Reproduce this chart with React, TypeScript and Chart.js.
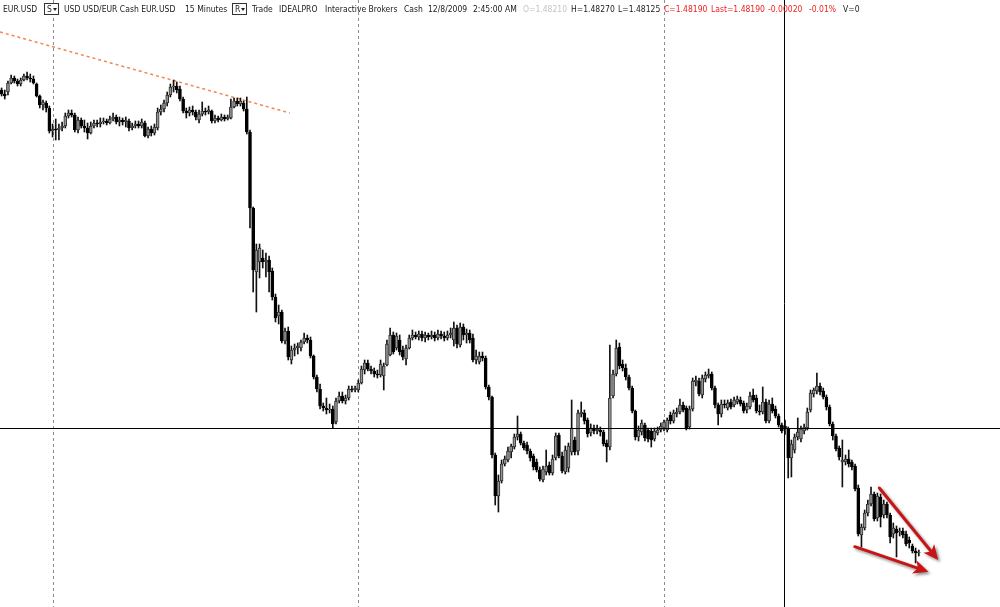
import React, { useEffect, useRef } from "react";
import { Chart, registerables } from "chart.js";

Chart.register(...registerables);

// ---- OHLC data (EUR.USD, 15 minute bars) ----
const opens = [
  1.5157, 1.5153, 1.5155, 1.5164, 1.5169, 1.5166, 1.5163, 1.5167, 1.5171, 1.5169,
  1.5168, 1.5163, 1.5151, 1.5142, 1.5144, 1.5139, 1.5116, 1.5118, 1.5117, 1.5119,
  1.5121, 1.5131, 1.5134, 1.5132, 1.5117, 1.5127, 1.5121, 1.5119, 1.5114, 1.5121,
  1.5124, 1.5123, 1.5125, 1.5126, 1.5124, 1.5128, 1.513, 1.5125, 1.5127, 1.5125,
  1.5126, 1.5119, 1.5121, 1.5123, 1.5121, 1.5124, 1.5111, 1.5118, 1.5114, 1.5119,
  1.5135, 1.5138, 1.5144, 1.5152, 1.516, 1.5161, 1.5158, 1.5148, 1.5136, 1.5134,
  1.5137, 1.5135, 1.5127, 1.5133, 1.5136, 1.5135, 1.5136, 1.5126, 1.5129, 1.5127,
  1.513, 1.5128, 1.5129, 1.514, 1.5146, 1.5143, 1.5144, 1.5138, 1.5115, 1.5039,
  1.4975, 1.4985, 1.4989, 1.4985, 1.4987, 1.4976, 1.495, 1.4931, 1.4935, 1.4906,
  1.4916, 1.4887, 1.4897, 1.4899, 1.4899, 1.4905, 1.4909, 1.4907, 1.4891, 1.487,
  1.4858, 1.4841, 1.4839, 1.4837, 1.4838, 1.4825, 1.4846, 1.4851, 1.4846, 1.4849,
  1.4858, 1.4857, 1.4857, 1.4864, 1.4877, 1.4884, 1.4878, 1.4876, 1.4873, 1.4872,
  1.4871, 1.4882, 1.4892, 1.4912, 1.4899, 1.4907, 1.4897, 1.4888, 1.4899, 1.4909,
  1.4912, 1.491, 1.4913, 1.4909, 1.4912, 1.491, 1.4912, 1.4909, 1.4913, 1.4911,
  1.4909, 1.4912, 1.4907, 1.4919, 1.4902, 1.492, 1.4912, 1.4914, 1.4909, 1.4887,
  1.4885, 1.4891, 1.4889, 1.486, 1.485, 1.4792, 1.4751, 1.4766, 1.4783, 1.4787,
  1.4795, 1.48, 1.481, 1.4813, 1.4804, 1.4802, 1.4796, 1.4791, 1.4785, 1.4777,
  1.4767, 1.4775, 1.4782, 1.4774, 1.4789, 1.4812, 1.4791, 1.4775, 1.4779, 1.4795,
  1.4807, 1.4796, 1.4833, 1.4834, 1.4827, 1.4814, 1.4819, 1.4816, 1.4817, 1.4815,
  1.4804, 1.48, 1.4851, 1.4873, 1.49, 1.4883, 1.4879, 1.487, 1.4859, 1.4836,
  1.481, 1.4815, 1.4822, 1.4817, 1.4816, 1.4808, 1.4814, 1.4817, 1.4819, 1.4817,
  1.4832, 1.4826, 1.4833, 1.4835, 1.4842, 1.4839, 1.482, 1.4838, 1.4865, 1.4866,
  1.4852, 1.4868, 1.4871, 1.4873, 1.4859, 1.4842, 1.4833, 1.4843, 1.4839, 1.4845,
  1.4842, 1.4845, 1.4847, 1.4844, 1.4837, 1.484, 1.4852, 1.4849, 1.4836, 1.4835,
  1.4845, 1.4826, 1.4843, 1.4838, 1.4831, 1.4822, 1.4821, 1.4818, 1.4789, 1.4797,
  1.481, 1.4808, 1.4816, 1.4819, 1.4837, 1.4853, 1.4856, 1.4861, 1.4856, 1.485,
  1.484, 1.4823, 1.4811, 1.4799, 1.4785, 1.4785, 1.4788, 1.4785, 1.4781, 1.4759,
  1.4712, 1.4719, 1.4734, 1.4743, 1.4753, 1.4729, 1.475, 1.4732, 1.4743, 1.4732,
  1.4713, 1.4718, 1.4715, 1.4716, 1.4713, 1.4707, 1.4701, 1.4696, 1.4694,
];

const highs = [
  1.5159, 1.5157, 1.5166, 1.5172, 1.5171, 1.5168, 1.5169, 1.5173, 1.5175, 1.5173,
  1.5171, 1.5164, 1.5152, 1.5147, 1.5146, 1.5141, 1.5123, 1.5128, 1.5123, 1.5125,
  1.5134, 1.5137, 1.5137, 1.5134, 1.513, 1.5129, 1.5127, 1.5124, 1.5125, 1.5127,
  1.5127, 1.5129, 1.5129, 1.5128, 1.5131, 1.5134, 1.5132, 1.513, 1.5129, 1.513,
  1.5128, 1.5124, 1.5126, 1.5126, 1.5128, 1.5126, 1.512, 1.5121, 1.5123, 1.5139,
  1.5142, 1.5147, 1.5155, 1.5163, 1.5167, 1.5165, 1.5161, 1.515, 1.5139, 1.514,
  1.5141, 1.5137, 1.5137, 1.5145, 1.5139, 1.5141, 1.5137, 1.5132, 1.5131, 1.5133,
  1.5132, 1.5132, 1.5148, 1.5149, 1.5149, 1.5149, 1.5146, 1.515, 1.5117, 1.504,
  1.5003, 1.5003, 1.4997, 1.4994, 1.4991, 1.4979, 1.4953, 1.4942, 1.4937, 1.4919,
  1.492, 1.4901, 1.4903, 1.4904, 1.4907, 1.4914, 1.4912, 1.491, 1.4892, 1.4872,
  1.4863, 1.4844, 1.4849, 1.4843, 1.4841, 1.4849, 1.4855, 1.4855, 1.4852, 1.4861,
  1.4861, 1.4861, 1.4867, 1.4881, 1.4887, 1.4887, 1.4881, 1.4879, 1.4877, 1.4887,
  1.4884, 1.4907, 1.4919, 1.4915, 1.4914, 1.4912, 1.4901, 1.4902, 1.4912, 1.4917,
  1.4915, 1.4916, 1.4916, 1.4915, 1.4914, 1.4916, 1.4915, 1.4917, 1.4916, 1.4915,
  1.4916, 1.4919, 1.4925, 1.4922, 1.4924, 1.4923, 1.4918, 1.4917, 1.4913, 1.4897,
  1.4895, 1.4895, 1.4891, 1.4862, 1.4851, 1.4794, 1.4772, 1.4787, 1.4791, 1.48,
  1.4803, 1.4813, 1.4831, 1.4815, 1.4806, 1.4805, 1.4798, 1.4793, 1.4788, 1.478,
  1.4781, 1.4797, 1.4785, 1.4792, 1.4814, 1.4814, 1.4795, 1.4801, 1.4804, 1.4847,
  1.481, 1.4837, 1.4845, 1.4837, 1.4829, 1.4823, 1.4822, 1.4822, 1.482, 1.4817,
  1.4807, 1.4902, 1.4877, 1.4907, 1.4904, 1.4887, 1.4883, 1.4872, 1.4861, 1.4837,
  1.4821, 1.4827, 1.4824, 1.4819, 1.4819, 1.4819, 1.482, 1.4824, 1.4827, 1.4829,
  1.4835, 1.4837, 1.4839, 1.4848, 1.4845, 1.4841, 1.4841, 1.4869, 1.4871, 1.4869,
  1.4872, 1.4875, 1.4878, 1.4875, 1.4861, 1.4844, 1.4847, 1.4847, 1.4847, 1.4848,
  1.485, 1.4851, 1.485, 1.4846, 1.4844, 1.4855, 1.4858, 1.4852, 1.4842, 1.486,
  1.4848, 1.4847, 1.4849, 1.4841, 1.4833, 1.4824, 1.4827, 1.482, 1.4807, 1.4813,
  1.4829, 1.4821, 1.4823, 1.4839, 1.4857, 1.4859, 1.4874, 1.4864, 1.4859, 1.4852,
  1.4842, 1.4825, 1.4813, 1.4801, 1.4807, 1.4792, 1.4797, 1.4787, 1.4783, 1.4762,
  1.4723, 1.4737, 1.4747, 1.476, 1.4755, 1.4754, 1.4753, 1.4747, 1.4745, 1.4734,
  1.4724, 1.4721, 1.4719, 1.4719, 1.4716, 1.471, 1.4703, 1.4699, 1.4697,
];

const lows = [
  1.5151, 1.5148, 1.5152, 1.5163, 1.5164, 1.5161, 1.5161, 1.5166, 1.5167, 1.5165,
  1.5163, 1.515, 1.5139, 1.5137, 1.5135, 1.5114, 1.511, 1.5107, 1.5107, 1.5116,
  1.5119, 1.5129, 1.513, 1.5115, 1.5114, 1.5119, 1.5115, 1.5108, 1.5113, 1.5119,
  1.512, 1.512, 1.5123, 1.5122, 1.5123, 1.5126, 1.5123, 1.5121, 1.5122, 1.512,
  1.5116, 1.5117, 1.5119, 1.5119, 1.5119, 1.511, 1.5109, 1.5111, 1.5112, 1.5117,
  1.5132, 1.5135, 1.5141, 1.515, 1.5155, 1.5154, 1.5146, 1.5134, 1.5129, 1.5131,
  1.5132, 1.5127, 1.5124, 1.5131, 1.5132, 1.5133, 1.5124, 1.5124, 1.5125, 1.5126,
  1.5126, 1.5127, 1.5128, 1.5139, 1.5141, 1.5141, 1.5136, 1.5113, 1.5019, 1.4955,
  1.4935, 1.4969, 1.4979, 1.497, 1.4955, 1.4947, 1.4925, 1.4923, 1.4904, 1.4903,
  1.4887, 1.4883, 1.4891, 1.4893, 1.4896, 1.4903, 1.4904, 1.4889, 1.4868, 1.4855,
  1.4838, 1.4836, 1.4833, 1.4834, 1.4819, 1.4823, 1.4844, 1.4844, 1.4843, 1.4847,
  1.4855, 1.4855, 1.4855, 1.4863, 1.4873, 1.4876, 1.4873, 1.487, 1.4869, 1.487,
  1.4857, 1.4881, 1.4891, 1.4893, 1.4897, 1.4892, 1.4887, 1.4882, 1.4898, 1.4907,
  1.4908, 1.4907, 1.4906, 1.4905, 1.4907, 1.4908, 1.4906, 1.4907, 1.4908, 1.4906,
  1.4907, 1.4909, 1.4901, 1.4899, 1.49, 1.4907, 1.4904, 1.4904, 1.4885, 1.4883,
  1.4883, 1.4886, 1.4858, 1.4847, 1.4789, 1.4742, 1.4735, 1.4764, 1.4781, 1.4785,
  1.4789, 1.4798, 1.4807, 1.4802, 1.4797, 1.4793, 1.4786, 1.4777, 1.4775, 1.4766,
  1.4765, 1.4772, 1.4772, 1.4772, 1.4787, 1.4789, 1.4774, 1.4773, 1.4775, 1.4792,
  1.4792, 1.4792, 1.483, 1.4823, 1.481, 1.4811, 1.4813, 1.4813, 1.4811, 1.4801,
  1.4785, 1.4797, 1.4849, 1.4871, 1.4878, 1.4876, 1.4867, 1.4857, 1.4834, 1.4807,
  1.4806, 1.4812, 1.4806, 1.4805, 1.48, 1.4806, 1.4812, 1.4815, 1.4816, 1.4815,
  1.4823, 1.4824, 1.483, 1.4833, 1.4835, 1.4817, 1.4818, 1.4836, 1.4861, 1.4851,
  1.4849, 1.4865, 1.4869, 1.4857, 1.4839, 1.4822, 1.483, 1.4839, 1.4837, 1.4838,
  1.484, 1.4843, 1.4841, 1.4834, 1.4834, 1.4838, 1.4845, 1.4834, 1.4832, 1.4833,
  1.4824, 1.4824, 1.4834, 1.4829, 1.482, 1.4814, 1.48125, 1.4769, 1.477, 1.4794,
  1.4807, 1.4805, 1.4813, 1.4817, 1.4835, 1.485, 1.4853, 1.4852, 1.4848, 1.4837,
  1.4821, 1.4807, 1.4796, 1.4787, 1.476, 1.4782, 1.478, 1.4777, 1.4756, 1.4711,
  1.47, 1.4717, 1.4731, 1.4741, 1.4726, 1.4726, 1.472, 1.4729, 1.4729, 1.4704,
  1.4709, 1.469, 1.4711, 1.4709, 1.4701, 1.4699, 1.4694, 1.4684, 1.4691,
];

const closes = [
  1.5153, 1.5151, 1.5164, 1.5169, 1.5166, 1.5163, 1.5167, 1.5171, 1.5169, 1.5168,
  1.5164, 1.5151, 1.5142, 1.5145, 1.5139, 1.5116, 1.5118, 1.5117, 1.5119, 1.5121,
  1.5131, 1.5134, 1.5132, 1.5117, 1.5127, 1.5121, 1.5119, 1.5114, 1.5121, 1.5124,
  1.5123, 1.5125, 1.5126, 1.5124, 1.5128, 1.513, 1.5125, 1.5127, 1.5125, 1.5127,
  1.5119, 1.5121, 1.5123, 1.5121, 1.5125, 1.5111, 1.5118, 1.5114, 1.512, 1.5135,
  1.5138, 1.5144, 1.5152, 1.516, 1.5161, 1.5157, 1.5148, 1.5136, 1.5134, 1.5137,
  1.5135, 1.513, 1.5133, 1.5136, 1.5135, 1.5137, 1.5126, 1.5129, 1.5127, 1.513,
  1.5128, 1.513, 1.514, 1.5146, 1.5143, 1.5146, 1.5138, 1.5115, 1.5039, 1.4977,
  1.4997, 1.4999, 1.4985, 1.4987, 1.4975, 1.495, 1.4929, 1.4935, 1.4906, 1.4916,
  1.489, 1.4897, 1.4899, 1.4901, 1.4905, 1.4909, 1.4907, 1.4891, 1.487, 1.4858,
  1.4841, 1.4839, 1.4837, 1.4838, 1.4823, 1.4846, 1.4851, 1.4846, 1.4849, 1.4858,
  1.4857, 1.4859, 1.4864, 1.4878, 1.4884, 1.4878, 1.4876, 1.4873, 1.4872, 1.4883,
  1.4881, 1.4903, 1.4912, 1.4895, 1.4911, 1.4895, 1.489, 1.4899, 1.4909, 1.4912,
  1.491, 1.4913, 1.4909, 1.4912, 1.491, 1.4912, 1.4909, 1.4913, 1.4911, 1.4909,
  1.4912, 1.4914, 1.4919, 1.4903, 1.492, 1.4912, 1.4914, 1.4907, 1.4887, 1.4891,
  1.4891, 1.4889, 1.486, 1.485, 1.4792, 1.4751, 1.4766, 1.4783, 1.4788, 1.4796,
  1.4801, 1.481, 1.4813, 1.4804, 1.4799, 1.4796, 1.4789, 1.478, 1.4777, 1.4768,
  1.4778, 1.4781, 1.4774, 1.4788, 1.4811, 1.4791, 1.4776, 1.4797, 1.4801, 1.4819,
  1.4795, 1.4834, 1.4835, 1.4826, 1.4813, 1.4819, 1.4816, 1.4818, 1.4815, 1.4803,
  1.48, 1.4849, 1.4873, 1.4899, 1.4881, 1.4879, 1.487, 1.4859, 1.4836, 1.481,
  1.4817, 1.4824, 1.4809, 1.4808, 1.4807, 1.4816, 1.4817, 1.4821, 1.4825, 1.4827,
  1.4826, 1.4834, 1.4835, 1.4842, 1.4837, 1.4819, 1.4838, 1.4866, 1.4867, 1.4853,
  1.4869, 1.4872, 1.4873, 1.4859, 1.4842, 1.4833, 1.4843, 1.4842, 1.4844, 1.484,
  1.4847, 1.4848, 1.4843, 1.4836, 1.4841, 1.4851, 1.4847, 1.4836, 1.4835, 1.4845,
  1.4826, 1.4843, 1.4836, 1.4831, 1.4822, 1.4816, 1.4819, 1.4789, 1.4803, 1.481,
  1.4815, 1.4818, 1.482, 1.4835, 1.4854, 1.4857, 1.4861, 1.4855, 1.485, 1.484,
  1.4823, 1.4811, 1.4798, 1.479, 1.4787, 1.4788, 1.4783, 1.478, 1.4758, 1.4713,
  1.472, 1.4734, 1.4743, 1.4753, 1.4728, 1.4751, 1.473, 1.4743, 1.4732, 1.471,
  1.4719, 1.4714, 1.4716, 1.4712, 1.4703, 1.4704, 1.4696, 1.4694, 1.4695,
];

// session separators (bar index), crosshair (bar index, price)
const sessionBreaks = [16, 112, 208];
const crosshairBar = 246;
const crosshairPrice = 1.4819;

// hand-drawn annotations (bar index / price)
const trendX = [-0.5, 90.5];
const trendY = [1.5215, 1.5134];
const arrowFromX = [275.6, 267.9];
const arrowFromY = [1.4759, 1.47003];
const arrowToX = [294.1, 291.0];
const arrowToY = [1.4687, 1.46753];

// axis ranges
const priceMin = 1.464;
const priceMax = 1.5247;
const slotMin = -0.5;
const slotMax = 313.5;

// header
const headerTexts = [
  "EUR.USD", "S", "USD USD/EUR Cash EUR.USD", "15 Minutes", "R", "Trade", "IDEALPRO",
  "Interactive Brokers", "Cash", "12/8/2009", "2:45:00 AM", "O=1.48210", "H=1.48270",
  "L=1.48125", "C=1.48190", "Last=1.48190", "-0.00020", "-0.01%", "V=0",
];
const headerLeft = [3, 44, 64, 185, 232, 252, 279, 325, 404, 428, 473, 523, 571, 618, 664, 711, 768, 809, 843];
const headerTone = ["k", "box", "k", "k", "box", "k", "k", "k", "k", "k", "k", "g", "k", "k", "r", "r", "r", "r", "k"];

const toneColor: Record<string, string> = { k: "#1a1a1a", g: "#c4c4c4", r: "#f02020", box: "#1a1a1a" };

function drawArrow(ctx: CanvasRenderingContext2D, x1: number, y1: number, x2: number, y2: number) {
  const ang = Math.atan2(y2 - y1, x2 - x1);
  const headLen = 15;
  const headW = 7;
  const bx = x2 - headLen * Math.cos(ang);
  const by = y2 - headLen * Math.sin(ang);
  ctx.save();
  ctx.shadowColor = "rgba(0,0,0,0.45)";
  ctx.shadowBlur = 3;
  ctx.shadowOffsetX = 2;
  ctx.shadowOffsetY = 2;
  ctx.strokeStyle = "#c81414";
  ctx.fillStyle = "#c81414";
  ctx.lineWidth = 3;
  ctx.lineCap = "round";
  ctx.beginPath();
  ctx.moveTo(x1, y1);
  ctx.lineTo(bx + 3 * Math.cos(ang), by + 3 * Math.sin(ang));
  ctx.stroke();
  ctx.beginPath();
  ctx.moveTo(x2, y2);
  ctx.lineTo(bx + headW * Math.sin(ang), by - headW * Math.cos(ang));
  ctx.lineTo(bx + 4 * Math.cos(ang), by + 4 * Math.sin(ang));
  ctx.lineTo(bx - headW * Math.sin(ang), by + headW * Math.cos(ang));
  ctx.closePath();
  ctx.fill();
  ctx.restore();
}

const overlayPlugin = {
  id: "overlay",
  beforeDatasetsDraw(chart: any) {
    const { ctx, chartArea, scales } = chart;
    const xs = scales.x;
    ctx.save();
    ctx.strokeStyle = "#8c8c8c";
    ctx.lineWidth = 1;
    ctx.setLineDash([3, 3]);
    sessionBreaks.forEach((b) => {
      const px = Math.round(xs.getPixelForValue(b)) + 0.5;
      ctx.beginPath();
      ctx.moveTo(px, chartArea.top);
      ctx.lineTo(px, chartArea.bottom);
      ctx.stroke();
    });
    ctx.restore();
  },
  afterDatasetsDraw(chart: any) {
    const { ctx, chartArea, scales } = chart;
    const xs = scales.x;
    const ys = scales.y;
    ctx.save();
    ctx.strokeStyle = "#000";
    ctx.lineWidth = 1;
    const cx = Math.round(xs.getPixelForValue(crosshairBar)) - 0.5;
    const cy = Math.round(ys.getPixelForValue(crosshairPrice)) + 0.5;
    ctx.beginPath();
    ctx.moveTo(cx, chartArea.top);
    ctx.lineTo(cx, chartArea.bottom);
    ctx.moveTo(chartArea.left, cy);
    ctx.lineTo(chartArea.right, cy);
    ctx.stroke();
    ctx.restore();
    arrowFromX.forEach((fx, k) => {
      drawArrow(
        ctx,
        xs.getPixelForValue(fx),
        ys.getPixelForValue(arrowFromY[k]),
        xs.getPixelForValue(arrowToX[k]),
        ys.getPixelForValue(arrowToY[k])
      );
    });
  },
};

export default function App() {
  const canvasRef = useRef<HTMLCanvasElement | null>(null);

  useEffect(() => {
    if (!canvasRef.current) return;
    const bodyData = opens.map((o, i) => ({ x: i, y: [Math.min(o, closes[i]), Math.max(o, closes[i])] }));
    const wickData = opens.map((_, i) => ({ x: i, y: [lows[i], highs[i]] }));
    const isUp = opens.map((o, i) => closes[i] >= o);
    const trendData = trendX.map((x, i) => ({ x, y: trendY[i] }));

    const chart = new Chart(canvasRef.current, {
      type: "bar",
      data: {
        datasets: [
          {
            label: "body",
            data: bodyData as any,
            backgroundColor: isUp.map((u) => (u ? "#949494" : "#000000")),
            borderColor: isUp.map((u) => (u ? "#303030" : "#000000")),
            borderWidth: 1,
            borderSkipped: false,
            barThickness: 3,
            minBarLength: 1,
            grouped: false,
            order: 0,
          } as any,
          {
            label: "wick",
            data: wickData as any,
            backgroundColor: "#111111",
            borderWidth: 0,
            barThickness: 1,
            minBarLength: 1,
            grouped: false,
            order: 1,
          } as any,
          {
            type: "line",
            label: "trend",
            data: trendData as any,
            borderColor: "#f3864e",
            borderWidth: 1.5,
            borderDash: [3, 3],
            pointRadius: 0,
            tension: 0,
            order: 2,
          } as any,
        ],
      },
      options: {
        animation: false,
        responsive: false,
        devicePixelRatio: 1,
        layout: { padding: 0 },
        scales: {
          x: { type: "linear", min: slotMin, max: slotMax, display: false, offset: false, grid: { offset: false } },
          y: { type: "linear", min: priceMin, max: priceMax, display: false },
        },
        plugins: { legend: { display: false }, tooltip: { enabled: false } },
      } as any,
      plugins: [overlayPlugin],
    });
    return () => chart.destroy();
  }, []);

  const font = "'DejaVu Sans Condensed', 'Liberation Sans', sans-serif";

  return (
    <div style={{ position: "absolute", left: 0, top: 0, width: 1000, height: 607, background: "#fff", overflow: "hidden" }}>
      <canvas ref={canvasRef} width={1000} height={607} style={{ display: "block", width: 1000, height: 607 }} />
      {headerTexts.map((t, i) =>
        headerTone[i] === "box" ? (
          <div
            key={i}
            style={{
              position: "absolute",
              left: headerLeft[i],
              top: 3,
              width: 13,
              height: 10,
              border: "1px solid #333",
              background: "#fff",
              fontFamily: font,
              fontSize: 8.5,
              lineHeight: "10px",
              color: "#1a1a1a",
            }}
          >
            <span style={{ position: "absolute", left: 2, top: 0 }}>{t}</span>
            <span
              style={{
                position: "absolute",
                left: 8,
                top: 4,
                width: 0,
                height: 0,
                borderLeft: "2px solid transparent",
                borderRight: "2px solid transparent",
                borderTop: "3px solid #222",
              }}
            />
          </div>
        ) : (
          <span
            key={i}
            style={{
              position: "absolute",
              left: headerLeft[i],
              top: 3,
              fontFamily: font,
              fontSize: 8.5,
              lineHeight: "12px",
              whiteSpace: "nowrap",
              color: toneColor[headerTone[i]],
            }}
          >
            {t}
          </span>
        )
      )}
    </div>
  );
}
